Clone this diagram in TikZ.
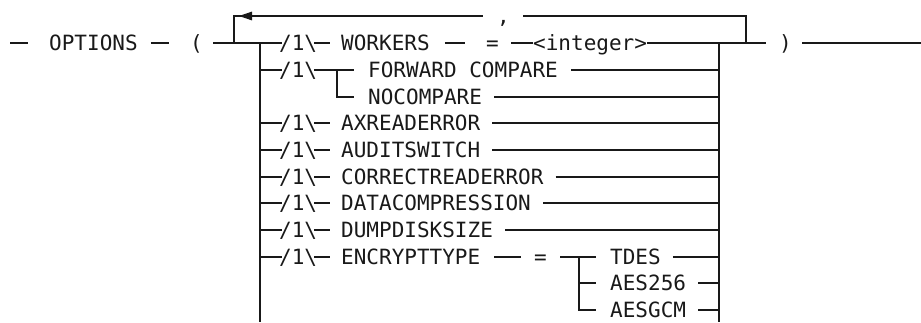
\documentclass[tikz,border=0pt]{standalone}
\usepackage{fontspec}
\newfontfamily\railfont{DejaVu Sans Mono}
\usetikzlibrary{arrows.meta}
\begin{document}
\begin{tikzpicture}[x=1pt,y=-1pt,
  rail/.style={line width=1.4pt, draw=black!90},
  kw/.style={font={\railfont\fontsize{21pt}{25pt}\selectfont}, inner sep=0pt,
             text height=15.3pt, text depth=0pt, anchor=west, text=black!90},
  back/.style={rail, -{Triangle[length=13pt,width=8.5pt]}},
]
\useasboundingbox (0,0) rectangle (921,322);

% free ends and rail junctions
\coordinate (in)   at (10,43);
\coordinate (out)  at (921,43);
\coordinate (jL)   at (260,43);
\coordinate (jLb)  at (260,322);
\coordinate (jR)   at (719,43);
\coordinate (jRb)  at (719,322);
\coordinate (lpL)  at (234,43);
\coordinate (lpR)  at (746,43);
\coordinate (sub1) at (337,70);
\coordinate (sub2) at (579,257);

% main line labels
\node[kw] (opt) at (49,43)  {OPTIONS};
\node[kw] (lp)  at (190,43) {(};
\node[kw] (rp)  at (779,43) {)};
\node[kw] (cm)  at (497,16) {,};

% /1\ markers
\foreach \n/\y in {1/43,2/70,4/123,5/150,6/177,7/203,8/230,9/257}
  \node[kw] (i\n) at (279,\y) {/1\textbackslash};

% option keywords
\node[kw] (wrk)  at (341,43)  {WORKERS};
\node[kw] (eq1)  at (486,43)  {=};
\node[kw] (int)  at (533,43)  {<integer>};
\node[kw] (fwd)  at (368,70)  {FORWARD COMPARE};
\node[kw] (noc)  at (368,97)  {NOCOMPARE};
\node[kw] (axr)  at (341,123) {AXREADERROR};
\node[kw] (aud)  at (341,150) {AUDITSWITCH};
\node[kw] (cor)  at (341,177) {CORRECTREADERROR};
\node[kw] (dat)  at (341,203) {DATACOMPRESSION};
\node[kw] (dmp)  at (341,230) {DUMPDISKSIZE};
\node[kw] (enc)  at (341,257) {ENCRYPTTYPE};
\node[kw] (eq2)  at (534,257) {=};
\node[kw] (tdes) at (610,257) {TDES};
\node[kw] (a256) at (610,283) {AES256};
\node[kw] (agcm) at (610,310) {AESGCM};

% main line
\draw[rail] (in) -- ([xshift=-21pt]opt.west);
\draw[rail] ([xshift=13pt]opt.east) -- ([xshift=31pt]opt.east);
\draw[rail] ([xshift=10pt]lp.east) -- ([xshift=3pt]i1.west);
\draw[rail] (int.east) -- ([xshift=-13pt]rp.west);
\draw[rail] ([xshift=10pt]rp.east) -- (out);

% repeat loop
\draw[rail] (lpL) |- ([xshift=-14pt]cm.west);
\draw[back] ([xshift=20pt]lpL |- cm.west) -- ([xshift=5pt]lpL |- cm.west);
\draw[rail] ([xshift=13pt]cm.east) -| (lpR);

% vertical rails
\draw[rail] (jL) -- (jLb);
\draw[rail] (jR) -- (jRb);

% branch entries
\foreach \n in {2,4,5,6,7,8,9}
  \draw[rail] (jL |- i\n.west) -- ([xshift=3pt]i\n.west);

% WORKERS row
\draw[rail] ([xshift=-3pt]i1.east) -- ([xshift=-11pt]wrk.west);
\draw[rail] ([xshift=15pt]wrk.east) -- ([xshift=35pt]wrk.east);
\draw[rail] ([xshift=12pt]eq1.east) -- (int.west);

% FORWARD COMPARE / NOCOMPARE
\draw[rail] ([xshift=-3pt]i2.east) -- ([xshift=-14pt]fwd.west);
\draw[rail] (sub1) |- ([xshift=-14pt]noc.west);
\draw[rail] ([xshift=13pt]fwd.east) -- (jR |- fwd.east);
\draw[rail] ([xshift=12pt]noc.east) -- (jR |- noc.east);

% single keyword rows
\foreach \n/\k in {4/axr,5/aud,6/cor,7/dat,8/dmp}{
  \draw[rail] ([xshift=-3pt]i\n.east) -- ([xshift=-11pt]\k.west);
  \draw[rail] ([xshift=12pt]\k.east) -- (jR |- \k.east);
}

% ENCRYPTTYPE row
\draw[rail] ([xshift=-3pt]i9.east) -- ([xshift=-11pt]enc.west);
\draw[rail] ([xshift=14pt]enc.east) -- ([xshift=41pt]enc.east);
\draw[rail] ([xshift=13pt]eq2.east) -- ([xshift=-14pt]tdes.west);
\draw[rail] (sub2) |- ([xshift=-14pt]a256.west);
\draw[rail] (sub2) |- ([xshift=-14pt]agcm.west);
\foreach \k in {tdes,a256,agcm}
  \draw[rail] ([xshift=12pt]\k.east) -- (jR |- \k.east);
\end{tikzpicture}
\end{document}
